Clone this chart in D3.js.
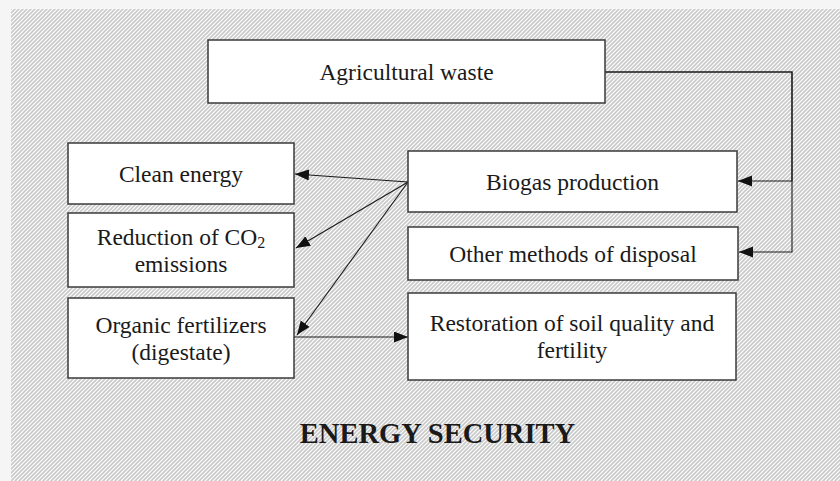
<!DOCTYPE html>
<meta charset="utf-8">
<head>
<style>
body { margin: 0; background: #f5f5f5; }
svg { display: block; }
text { font-family: "Liberation Serif", "Times New Roman", serif; fill: #1a1a1a; }
</style>
<script src="https://d3js.org/d3.v7.min.js"></script>
</head>
<body>
<div id="chart"></div>
<script>
// node labels (each entry = lines of text)
var nodeIds = ["waste", "clean", "co2", "organic", "biogas", "other", "soil"];
var nodeLabels = [
  ["Agricultural waste"],
  ["Clean energy"],
  ["Reduction of CO|2", "emissions"],
  ["Organic fertilizers", "(digestate)"],
  ["Biogas production"],
  ["Other methods of disposal"],
  ["Restoration of soil quality and", "fertility"]
];
var links = [
  ["biogas", "clean"],
  ["biogas", "co2"],
  ["biogas", "organic"],
  ["organic", "soil"],
  ["waste", "biogas"],
  ["waste", "other"]
];
var footerText = "ENERGY SECURITY";

// layout
var width = 840, height = 481;
var box = {
  waste:   {x: 208, y: 40,  w: 397, h: 63},
  clean:   {x: 68,  y: 143, w: 226, h: 61},
  co2:     {x: 68,  y: 213, w: 226, h: 74},
  organic: {x: 68,  y: 298, w: 226, h: 80},
  biogas:  {x: 408, y: 151, w: 329, h: 61},
  other:   {x: 408, y: 227, w: 330, h: 53},
  soil:    {x: 408, y: 293, w: 328, h: 87}
};
var busX = 792, lineH = 27;

var svg = d3.select("#chart").append("svg")
    .attr("width", width)
    .attr("height", height);

var defs = svg.append("defs");
var pat = defs.append("pattern")
    .attr("id", "hatch")
    .attr("patternUnits", "userSpaceOnUse")
    .attr("width", 4).attr("height", 4);
pat.append("rect").attr("width", 4).attr("height", 4).attr("fill", "#fff");
pat.append("path")
    .attr("d", "M-1,1 l2,-2 M0,4 l4,-4 M3,5 l2,-2")
    .attr("stroke", "#c9c9c9")
    .attr("stroke-width", 1.6);

defs.append("marker")
    .attr("id", "arr")
    .attr("markerUnits", "userSpaceOnUse")
    .attr("markerWidth", 16).attr("markerHeight", 12)
    .attr("refX", 14).attr("refY", 5.5)
    .attr("orient", "auto")
  .append("path")
    .attr("d", "M0,0 L14,5.5 L0,11 Z")
    .attr("fill", "#111");

svg.append("rect")
    .attr("x", 11).attr("y", 9)
    .attr("width", width - 11).attr("height", height - 9)
    .attr("fill", "url(#hatch)");

// connectors
var g = svg.append("g")
    .attr("fill", "none")
    .attr("stroke", "#1a1a1a")
    .attr("stroke-width", 1.1);

function mid(b) { return [b.x + b.w / 2, b.y + b.h / 2]; }

links.forEach(function(l) {
  var s = box[l[0]], t = box[l[1]];
  var pts;
  if (l[0] === "waste") {
    var ty = l[1] === "biogas" ? t.y + 30 : t.y + 25;
    var sy = s.y + 32;
    // bus goes out of the right side, down and back left
    pts = [[s.x + s.w, sy], [busX, sy], [busX, ty], [t.x + t.w + 1, ty]];
    g.append("path")
      .attr("d", d3.line()(pts))
      .attr("marker-end", "url(#arr)");
  } else if (l[0] === "biogas") {
    var ox = s.x, oy = s.y + 31;
    var tip = {clean: [295, 174], co2: [296, 248], organic: [297, 335]}[l[1]];
    g.append("path")
      .attr("d", d3.line()([[ox, oy], tip]))
      .attr("marker-end", "url(#arr)");
  } else {
    var y = s.y + 39;
    g.append("path")
      .attr("d", d3.line()([[s.x + s.w, y], [t.x, y]]))
      .attr("marker-end", "url(#arr)");
  }
});

// boxes
var nodes = svg.append("g").selectAll("g")
  .data(nodeIds.map(function(id, i) { return {id: id, lines: nodeLabels[i]}; }))
  .join("g");

nodes.append("rect")
    .attr("x", function(d) { return box[d.id].x; })
    .attr("y", function(d) { return box[d.id].y; })
    .attr("width", function(d) { return box[d.id].w; })
    .attr("height", function(d) { return box[d.id].h; })
    .attr("fill", "#fff")
    .attr("stroke", "#3a3a3a")
    .attr("stroke-width", 1.5);

nodes.each(function(d) {
  var b = box[d.id], c = mid(b);
  var n = d.lines.length;
  var base = c[1] + 8 - (n - 1) * lineH / 2;
  d.lines.forEach(function(line, i) {
    var t = d3.select(this).append("text")
        .attr("x", c[0])
        .attr("y", base + i * lineH)
        .attr("text-anchor", "middle")
        .attr("font-size", 23.5);
    var parts = line.split("|");
    t.append("tspan").text(parts[0]);
    if (parts[1]) {
      t.append("tspan")
        .attr("font-size", 16)
        .attr("dy", 3)
        .text(parts[1]);
    }
  }, this);
});

svg.append("text")
    .attr("x", 437.5)
    .attr("y", 443)
    .attr("text-anchor", "middle")
    .attr("font-size", 28.5)
    .attr("font-weight", "bold")
    .text(footerText);
</script>
</body>
